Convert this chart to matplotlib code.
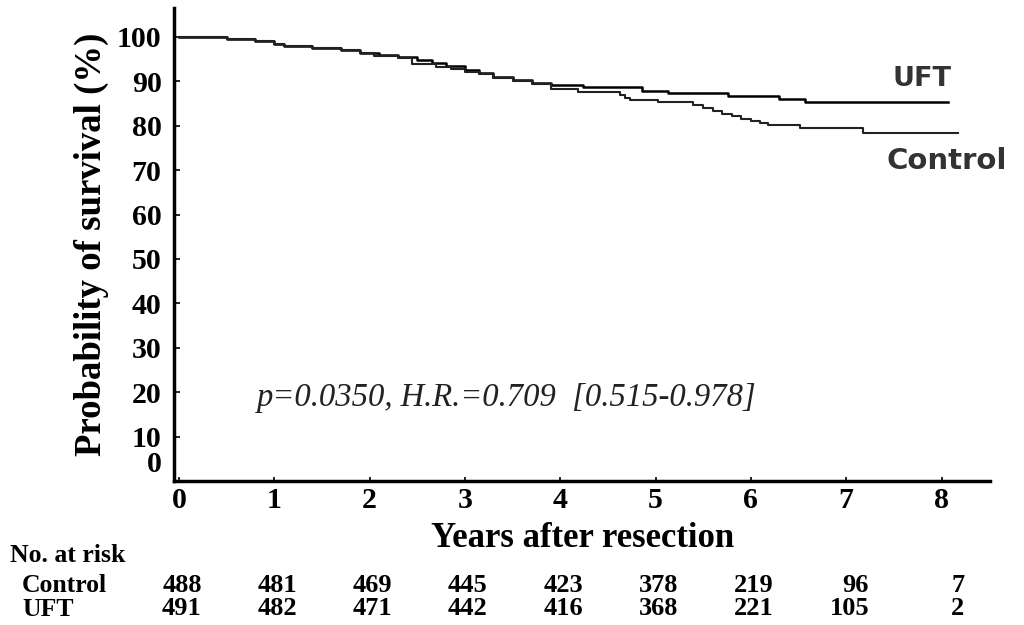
import numpy as np
import matplotlib.pyplot as plt
from matplotlib.transforms import ScaledTranslation

# Kaplan-Meier step points (years, % surviving)
uft_t = [0, 0.5, 0.8, 1.0, 1.1, 1.4, 1.7, 1.9, 2.1, 2.3, 2.5, 2.65, 2.8, 3.0,
         3.15, 3.3, 3.5, 3.7, 3.9, 4.24, 4.86, 5.13, 5.76, 6.29, 6.57, 8.07]
uft_s = [100, 99.6, 99.2, 98.4, 98.0, 97.6, 97.0, 96.5, 96.0, 95.4, 94.9, 94.2,
         93.4, 92.5, 91.8, 91.0, 90.2, 89.7, 89.2, 88.7, 87.9, 87.3, 86.7, 86.0,
         85.4, 85.4]

ctrl_t = [0, 0.5, 0.8, 1.0, 1.1, 1.4, 1.7, 1.9, 2.05, 2.3, 2.45, 2.7, 2.85, 3.0,
          3.15, 3.3, 3.5, 3.7, 3.9, 4.19, 4.63, 4.68, 4.73, 5.03, 5.39, 5.5, 5.6,
          5.7, 5.8, 5.9, 6.0, 6.1, 6.18, 6.51, 7.18, 8.17]
ctrl_s = [100, 99.6, 99.2, 98.4, 98.0, 97.6, 97.0, 96.5, 95.8, 95.2, 94.0, 93.3,
          92.8, 92.2, 91.6, 90.8, 90.0, 89.5, 88.3, 87.7, 86.9, 86.2, 85.7, 85.3,
          84.6, 84.0, 83.4, 82.7, 82.1, 81.6, 81.1, 80.6, 80.2, 79.4, 78.3, 78.3]

years = [0, 1, 2, 3, 4, 5, 6, 7, 8]
risk_control = [488, 481, 469, 445, 423, 378, 219, 96, 7]
risk_uft = [491, 482, 471, 442, 416, 368, 221, 105, 2]

serif = 'Liberation Serif'
sans = 'DejaVu Sans'

fig = plt.figure(figsize=(10.24, 6.25), dpi=100)
ax = fig.add_axes([0.170, 0.2304, 0.797, 0.7566])

ax.plot(uft_t, uft_s, drawstyle='steps-post', color='black', lw=1.8)
ax.plot(ctrl_t, ctrl_s, drawstyle='steps-post', color='#222222', lw=1.5)

ax.set_xlim(-0.05, 8.51)
ax.set_ylim(0, 106.5)
ax.set_xticks(years)
ax.set_yticks(np.arange(0, 101, 10))

for side in ('top', 'right'):
    ax.spines[side].set_visible(False)
for side in ('left', 'bottom'):
    ax.spines[side].set_linewidth(2.5)

ax.tick_params(axis='y', direction='in', length=4, width=1.2, pad=9)
ax.tick_params(axis='x', direction='in', length=3, width=1.2, pad=4)
for lab in ax.get_xticklabels() + ax.get_yticklabels():
    lab.set_fontfamily(serif)
    lab.set_fontweight('bold')
    lab.set_fontsize(21.5)

# the "0" on the y axis sits a bit higher in the original
y0 = ax.get_yticklabels()[0]
y0.set_transform(y0.get_transform() + ScaledTranslation(0, 14 / 72, fig.dpi_scale_trans))

ax.set_xlabel('Years after resection', fontfamily=serif, fontweight='bold',
              fontsize=25, labelpad=6)
ax.set_ylabel('Probability of survival (%)', fontfamily=serif, fontweight='bold',
              fontsize=26.5, labelpad=6)

ax.text(7.49, 85.4 + 2.3, 'UFT', fontfamily=sans, fontweight='bold', fontsize=19.5,
        color='#333333', ha='left', va='bottom')
ax.text(7.42, 78.3 - 3.0, 'Control', fontfamily=sans, fontweight='bold', fontsize=21,
        color='#333333', ha='left', va='top')

ax.text(0.82, 18.7, 'p=0.0350, H.R.=0.709  [0.515-0.978]', fontfamily=serif,
        fontstyle='italic', fontsize=23.5, color='#222222', ha='left', va='center')

# numbers at risk table
fig.text(10 / 1024, 1 - 556 / 625, 'No. at risk', fontfamily=serif, fontweight='bold',
         fontsize=18.5, ha='left', va='center')
fig.text(22 / 1024, 1 - 585 / 625, 'Control', fontfamily=serif, fontweight='bold',
         fontsize=18.5, ha='left', va='center')
fig.text(22 / 1024, 1 - 609 / 625, 'UFT', fontfamily=serif, fontweight='bold',
         fontsize=18.5, ha='left', va='center')
tr = ax.get_xaxis_transform()
for x, c, u in zip(years, risk_control, risk_uft):
    ax.text(x + 0.24, -0.22, str(c), transform=tr, fontfamily=serif,
            fontweight='bold', fontsize=19, ha='right', va='center', clip_on=False)
    ax.text(x + 0.24, -0.27, str(u), transform=tr, fontfamily=serif,
            fontweight='bold', fontsize=19, ha='right', va='center', clip_on=False)

fig.savefig('out.png', dpi=100)
